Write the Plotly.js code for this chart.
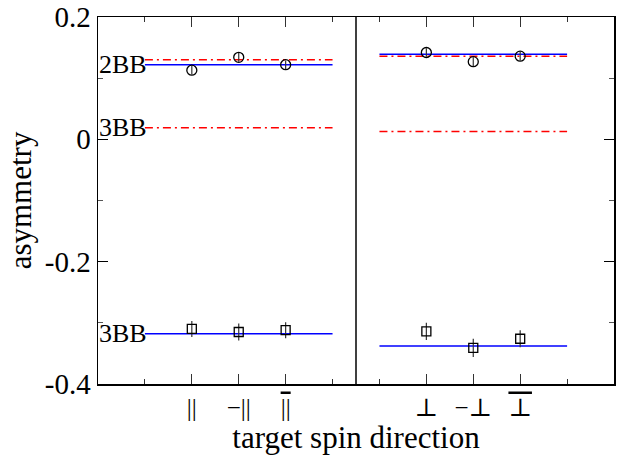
<!DOCTYPE html>
<html>
<head>
<meta charset="utf-8">
<script src="https://cdn.plot.ly/plotly-3.0.1.min.js"></script>
<style>html,body{margin:0;padding:0;background:#fff;}#chart{width:623px;height:464px;}</style>
</head>
<body>
<div id="chart"></div>
<script>
// Tick positions and labels
const tickPositions = [2, 3, 4, 7, 8, 9];
const tickLabels = ['||', '\u2212||', '<span style="text-decoration:overline">||</span>',
                    '\u22A5', '\u2212\u22A5', '<span style="text-decoration:overline">\u22A5</span>'];
const minorTickPositions = [1, 5, 6, 10];
const yTickVals = [0.2, 0, -0.2, -0.4];
const yTickText = ['0.2', '0', '-0.2', '-0.4'];

// Measured points (x positions per panel)
const xLeft = [2, 3, 4];
const xRight = [7, 8, 9];
const circlesLeft = [0.113, 0.134, 0.122];
const circlesLeftErr = [0.007, 0.007, 0.007];
const circlesRight = [0.142, 0.127, 0.136];
const circlesRightErr = [0.007, 0.007, 0.007];
const squaresLeft = [-0.310, -0.315, -0.312];
const squaresLeftErr = [0.013, 0.014, 0.013];
const squaresRight = [-0.314, -0.341, -0.326];
const squaresRightErr = [0.014, 0.015, 0.014];

// Theory levels [left panel, right panel]
const panelSpanLeft = [1, 5];
const panelSpanRight = [6, 10];
const blue2BB = [0.122, 0.139];
const red2BB = [0.130, 0.136];
const red3BB = [0.019, 0.013];
const blue3BB = [-0.318, -0.338];

const SERIF = '"Liberation Serif", "Times New Roman", "DejaVu Serif", serif';
const traces = [];

function hline(span, y, color, dash) {
  traces.push({x: span, y: [y, y], mode: 'lines', type: 'scatter',
    line: {color: color, width: 1.5, dash: dash}, hoverinfo: 'skip', showlegend: false});
}
const redDash = '8px,4px,2px,4px';
hline(panelSpanLeft, red2BB[0], '#ff0000', redDash);
hline(panelSpanRight, red2BB[1], '#ff0000', redDash);
hline(panelSpanLeft, red3BB[0], '#ff0000', redDash);
hline(panelSpanRight, red3BB[1], '#ff0000', redDash);
hline(panelSpanLeft, blue2BB[0], '#0000ff', 'solid');
hline(panelSpanRight, blue2BB[1], '#0000ff', 'solid');
hline(panelSpanLeft, blue3BB[0], '#0000ff', 'solid');
hline(panelSpanRight, blue3BB[1], '#0000ff', 'solid');

function pts(x, y, err, symbol, size) {
  traces.push({x: x, y: y, mode: 'markers', type: 'scatter',
    error_y: {type: 'data', array: err, visible: true, color: '#333', thickness: 1.2, width: 0},
    marker: {symbol: symbol, size: size, color: '#000', line: {color: '#000', width: 1.3}},
    showlegend: false});
}
pts(xLeft, circlesLeft, circlesLeftErr, 'circle-open', 10);
pts(xRight, circlesRight, circlesRightErr, 'circle-open', 10);
pts(xLeft, squaresLeft, squaresLeftErr, 'square-open', 9);
pts(xRight, squaresRight, squaresRightErr, 'square-open', 9);

const layout = {
  width: 623, height: 464,
  margin: {l: 98, r: 9, t: 17, b: 80},
  paper_bgcolor: '#fff', plot_bgcolor: '#fff',
  font: {family: SERIF, color: '#000'},
  showlegend: false,
  xaxis: {
    range: [0, 11], showgrid: false, zeroline: false,
    showline: true, linecolor: '#000', linewidth: 1.5, mirror: 'ticks',
    ticks: 'inside', ticklen: 10, tickwidth: 1, tickcolor: '#333',
    tickmode: 'array', tickvals: tickPositions, ticktext: tickLabels,
    tickfont: {family: SERIF, size: 25, color: '#000'},
    minor: {tickmode: 'array', tickvals: minorTickPositions, ticks: 'inside', ticklen: 5, tickcolor: '#333', showgrid: false},
    title: {text: 'target spin direction', font: {family: SERIF, size: 31, color: '#000'}, standoff: 6}
  },
  yaxis: {
    range: [-0.4, 0.2], showgrid: false, zeroline: false,
    showline: true, linecolor: '#000', linewidth: 1.5, mirror: 'ticks',
    ticks: 'inside', ticklen: 10, tickwidth: 1, tickcolor: '#000',
    tickmode: 'array', tickvals: yTickVals, ticktext: yTickText,
    tickfont: {family: SERIF, size: 29, color: '#000'},
    ticklabelstandoff: 0, ticklabeloverflow: 'allow',
    minor: {dtick: 0.1, ticks: 'inside', ticklen: 5, tickcolor: '#555', showgrid: false},
    title: {text: 'asymmetry', font: {family: SERIF, size: 31, color: '#000'}, standoff: 4}
  },
  shapes: [{type: 'line', xref: 'x', yref: 'paper', x0: 5.5, x1: 5.5, y0: 0, y1: 1,
    line: {color: '#000', width: 1.5}}],
  annotations: [
    {text: '2BB', x: panelSpanLeft[0], y: blue2BB[0], xref: 'x', yref: 'y', xanchor: 'right', yanchor: 'middle', xshift: 4, showarrow: false, font: {family: SERIF, size: 26, color: '#000'}},
    {text: '3BB', x: panelSpanLeft[0], y: red3BB[0], xref: 'x', yref: 'y', xanchor: 'right', yanchor: 'middle', xshift: 4, showarrow: false, font: {family: SERIF, size: 26, color: '#000'}},
    {text: '3BB', x: panelSpanLeft[0], y: blue3BB[0], xref: 'x', yref: 'y', xanchor: 'right', yanchor: 'middle', xshift: 4, showarrow: false, font: {family: SERIF, size: 26, color: '#000'}}
  ]
};

Plotly.newPlot('chart', traces, layout, {displayModeBar: false, staticPlot: true});
</script>
</body>
</html>
